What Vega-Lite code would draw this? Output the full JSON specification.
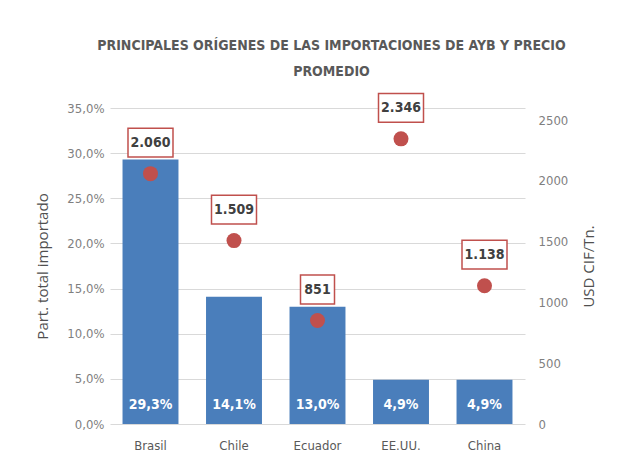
{
  "$schema": "https://vega.github.io/schema/vega-lite/v6.json",
  "width": 415,
  "height": 316,
  "autosize": {"type": "none"},
  "padding": {"left": 110, "top": 108, "right": 114, "bottom": 42},
  "config": {
    "locale": {"number": {"decimal": ",", "thousands": ".", "grouping": [3], "currency": ["$", ""]}},
    "view": {"stroke": null},
    "font": "DejaVu Sans Condensed, Liberation Sans, sans-serif",
    "axis": {"labelFont": "DejaVu Sans Condensed, Liberation Sans, sans-serif", "labelFontSize": 13, "labelColor": "#7f7f7f", "titleColor": "#505050", "titleFont": "Open Sans", "titleFontSize": 15, "titleFontWeight": "normal"}
  },
  "title": {
    "text": ["PRINCIPALES ORÍGENES DE LAS IMPORTACIONES DE AYB Y PRECIO", "PROMEDIO"],
    "font": "DejaVu Sans Condensed, Liberation Sans, sans-serif",
    "fontSize": 14,
    "fontWeight": "bold",
    "color": "#595959",
    "lineHeight": 26,
    "anchor": "middle",
    "dx": 14,
    "offset": 11
  },
  "data": {
    "values": [
      {"pais": "Brasil", "part": 0.293, "precio": 2060},
      {"pais": "Chile", "part": 0.141, "precio": 1509},
      {"pais": "Ecuador", "part": 0.130, "precio": 851},
      {"pais": "EE.UU.", "part": 0.049, "precio": 2346},
      {"pais": "China", "part": 0.049, "precio": 1138}
    ]
  },
  "encoding": {
    "x": {
      "field": "pais", "type": "nominal", "sort": null,
      "scale": {"paddingInner": 0.33, "paddingOuter": 0.15},
      "axis": {"title": null, "labelAngle": 0, "ticks": false, "domain": false, "labelPadding": 15, "labelColor": "#595959"}
    }
  },
  "layer": [
    {
      "layer": [
        {
          "mark": {"type": "bar", "color": "#4a7ebb"},
          "encoding": {
            "y": {
              "field": "part", "type": "quantitative",
              "scale": {"domain": [0, 0.35]},
              "axis": {
                "title": "Part. total importado",
                "values": [0, 0.05, 0.1, 0.15, 0.2, 0.25, 0.3, 0.35],
                "format": ".1%",
                "grid": true, "gridColor": "#d9d9d9",
                "domain": false, "ticks": false, "labelPadding": 6,
                "titleAngle": -90, "titleX": -68, "titleY": 158, "titleAlign": "center", "titleBaseline": "middle"
              }
            }
          }
        },
        {
          "mark": {"type": "text", "color": "white", "fontWeight": "bold", "fontSize": 14, "baseline": "middle", "dy": -19},
          "encoding": {
            "y": {"datum": 0, "type": "quantitative"},
            "text": {"field": "part", "type": "quantitative", "format": ".1%"}
          }
        }
      ]
    },
    {
      "layer": [
        {
          "mark": {"type": "point", "filled": true, "shape": "circle", "size": 225, "color": "#c0504d", "opacity": 1},
          "encoding": {
            "y": {
              "field": "precio", "type": "quantitative",
              "scale": {"domain": [0, 2500]},
              "axis": {
                "orient": "right",
                "title": "USD CIF/Tn.",
                "values": [0, 500, 1000, 1500, 2000, 2500],
                "format": "d",
                "grid": false, "domain": false, "ticks": false, "labelPadding": 13,
                "titleAngle": -90, "titleX": 63, "titleY": 158, "titleAlign": "center", "titleBaseline": "middle"
              }
            }
          }
        },
        {
          "transform": [{"filter": "datum.precio >= 1000"}],
          "mark": {"type": "point", "filled": false, "shape": "M-1,-0.64L1,-0.64L1,0.64L-1,0.64Z", "size": 2025, "stroke": "#c0504d", "strokeWidth": 1.5, "fill": "white", "fillOpacity": 1, "opacity": 1, "yOffset": -31},
          "encoding": {"y": {"field": "precio", "type": "quantitative"}}
        },
        {
          "transform": [{"filter": "datum.precio < 1000"}],
          "mark": {"type": "point", "filled": false, "shape": "M-1,-0.85L1,-0.85L1,0.85L-1,0.85Z", "size": 1156, "stroke": "#c0504d", "strokeWidth": 1.5, "fill": "white", "fillOpacity": 1, "opacity": 1, "yOffset": -31},
          "encoding": {"y": {"field": "precio", "type": "quantitative"}}
        },
        {
          "mark": {"type": "text", "color": "#404040", "fontWeight": "bold", "fontSize": 14, "baseline": "middle", "yOffset": -31},
          "encoding": {
            "y": {"field": "precio", "type": "quantitative"},
            "text": {"field": "precio", "type": "quantitative", "format": ",.0f"}
          }
        }
      ]
    }
  ],
  "resolve": {"scale": {"y": "independent"}}
}
